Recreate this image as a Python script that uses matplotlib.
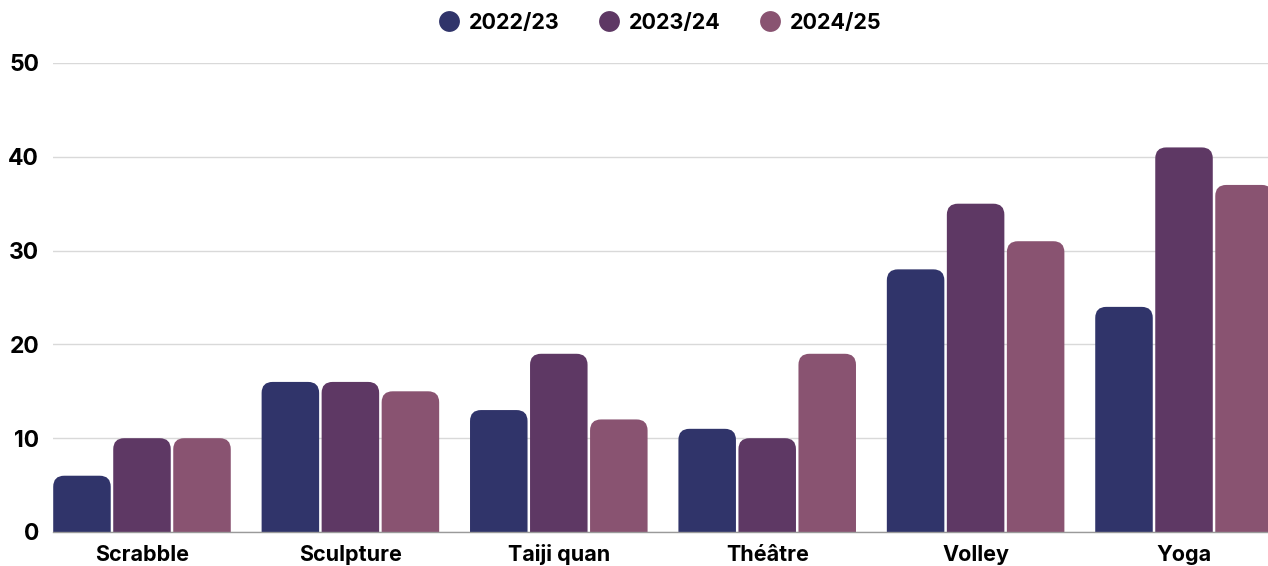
import matplotlib.pyplot as plt
from matplotlib.patches import FancyBboxPatch
from matplotlib.lines import Line2D
import numpy as np

plt.rcParams['font.family'] = ['Inter', 'DejaVu Sans']

categories = ['Scrabble', 'Sculpture', 'Taiji quan', 'Théâtre', 'Volley', 'Yoga']
seasons = ['2022/23', '2023/24', '2024/25']
v_2022 = [6, 16, 13, 11, 28, 24]
v_2023 = [10, 16, 19, 10, 35, 41]
v_2024 = [10, 15, 12, 19, 31, 37]
yticks = [0, 10, 20, 30, 40, 50]

colors = ['#30346a', '#5e3864', '#895371']

fig = plt.figure(figsize=(12.68, 5.66), dpi=100)
ax = fig.add_axes([53 / 1268, 34 / 566, (1268 - 53) / 1268, (532 - 63) / 566])

x = np.arange(len(categories))
width = 0.276
step = 0.288
xmin, xmax = -0.427, 5.403
ymin, ymax = 0, 50
ax.set_xlim(xmin, xmax)
ax.set_ylim(ymin, ymax)

# rounded top corners: radius in px converted to data units
bbox = ax.get_position()
px_x = bbox.width * 1268 / (xmax - xmin)
px_y = bbox.height * 566 / (ymax - ymin)
r = 11 / px_x
aspect = px_x / px_y

for k, vals in enumerate([v_2022, v_2023, v_2024]):
    for xi, v in zip(x, vals):
        left = xi + (k - 1) * step - width / 2
        p = FancyBboxPatch((left, -5), width, v + 5,
                           boxstyle=f"round,pad=0,rounding_size={r}",
                           mutation_aspect=aspect,
                           facecolor=colors[k], edgecolor='none', zorder=3)
        ax.add_patch(p)

ax.set_yticks(yticks)
ax.set_yticklabels([str(t) for t in yticks], fontsize=16.5, fontweight='bold')
ax.set_xticks(x)
ax.set_xticklabels(categories, fontsize=15.5, fontweight='bold')
for lbl in ax.get_xticklabels():
    lbl.set_va('baseline')
ax.tick_params(axis='both', length=0)
ax.tick_params(axis='y', pad=10)
ax.tick_params(axis='x', pad=21)
ax.grid(axis='y', color='#d9d9d9', linewidth=1, zorder=0)
ax.set_axisbelow(True)
for s in ['top', 'right', 'left']:
    ax.spines[s].set_visible(False)
ax.spines['bottom'].set_color('#9a9a9a')
ax.spines['bottom'].set_linewidth(1)
ax.spines['bottom'].set_zorder(4)

handles = [Line2D([], [], linestyle='none', marker='o', markersize=15,
                  markerfacecolor=c, markeredgecolor='none') for c in colors]
fig.legend(handles, seasons, loc='center', bbox_to_anchor=(660 / 1268, 1 - 23 / 566),
           ncol=3, frameon=False, prop={'weight': 'bold', 'size': 15.5},
           handletextpad=0.42, columnspacing=1.8, handlelength=1.0)

plt.savefig('out.png', dpi=100)
